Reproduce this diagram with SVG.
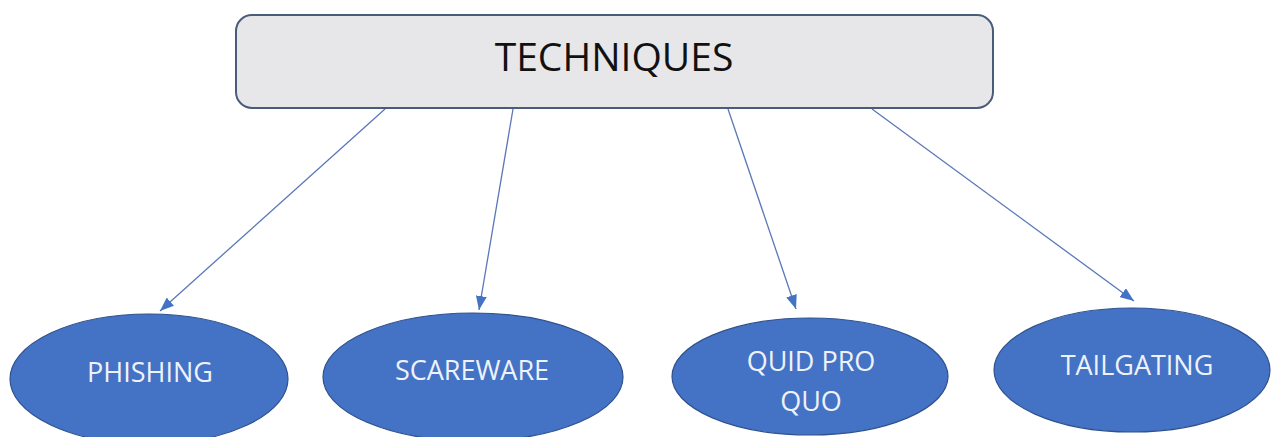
<svg xmlns="http://www.w3.org/2000/svg" width="1273" height="437" viewBox="0 0 1273 437">
  <style>
    .bg { fill: #ffffff; }
    .title-box { fill: #e7e7e9; stroke: #4a5b7c; stroke-width: 2; }
    .title { font-family: "Open Sans", "Liberation Sans", sans-serif; font-size: 39px; fill: #111111; text-anchor: middle; }
    .oval { fill: #4472c4; stroke: #2f528f; stroke-width: 1.2; }
    .label { font-family: "Open Sans", "Liberation Sans", sans-serif; font-size: 27px; font-weight: 500; fill: #eef2fa; text-anchor: middle; }
    .conn { stroke: #5a78b8; stroke-width: 1.3; fill: none; marker-end: url(#arrow); }
  </style>
  <defs>
    <marker id="arrow" viewBox="0 0 14 11" refX="14" refY="5.5" markerWidth="14" markerHeight="11" markerUnits="userSpaceOnUse" orient="auto">
      <path d="M0,0 L14,5.5 L0,11 Z" fill="#4472c4"/>
    </marker>
  </defs>
  <rect class="bg" x="0" y="0" width="1273" height="437"/>

  <g id="connectors">
    <line class="conn" x1="385" y1="109" x2="160" y2="311"/>
    <line class="conn" x1="513" y1="109" x2="479" y2="310"/>
    <line class="conn" x1="728" y1="109" x2="796" y2="309"/>
    <line class="conn" x1="872" y1="109" x2="1134" y2="301"/>
  </g>

  <g id="techniques">
    <rect class="title-box" x="236" y="15" width="757" height="93" rx="16" ry="16"/>
    <text class="title" x="614" y="71">TECHNIQUES</text>
  </g>

  <g id="phishing">
    <ellipse class="oval" cx="149" cy="379" rx="139" ry="65"/>
    <text class="label" x="150" y="382">PHISHING</text>
  </g>

  <g id="scareware">
    <ellipse class="oval" cx="473" cy="377" rx="150" ry="64"/>
    <text class="label" x="472" y="380">SCAREWARE</text>
  </g>

  <g id="quid-pro-quo">
    <ellipse class="oval" cx="810" cy="376.5" rx="138" ry="58.5"/>
    <text class="label" x="811" y="371">QUID PRO</text>
    <text class="label" x="811" y="411">QUO</text>
  </g>

  <g id="tailgating">
    <ellipse class="oval" cx="1132" cy="370" rx="138" ry="62"/>
    <text class="label" x="1137" y="375">TAILGATING</text>
  </g>
</svg>
